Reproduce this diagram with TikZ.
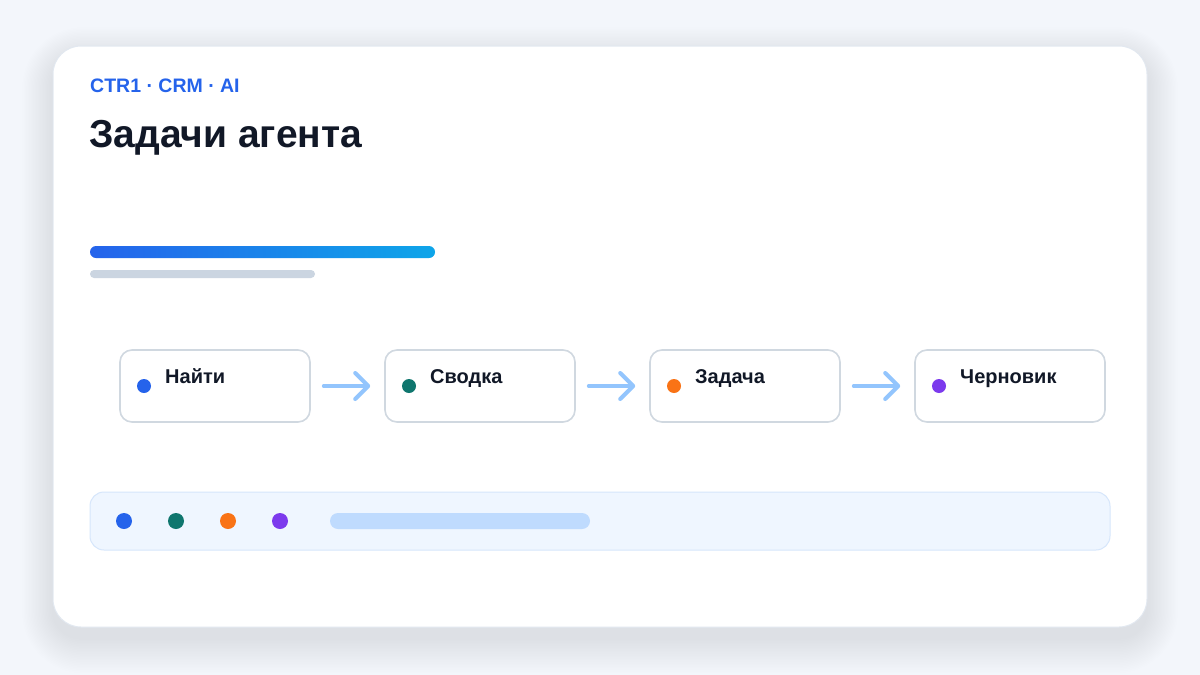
\documentclass[tikz,border=0pt]{standalone}
\usepackage{fontspec}
\setmainfont{Liberation Sans}
\usetikzlibrary{arrows.meta}
\definecolor{bg}{HTML}{F3F6FB}
\definecolor{cardline}{HTML}{E2E8F0}
\definecolor{shadowc}{HTML}{64748B}
\definecolor{boxline}{HTML}{D0D8E0}
\definecolor{ink}{HTML}{111827}
\definecolor{accent}{HTML}{2563EB}
\definecolor{gradR}{HTML}{0EA5E9}
\definecolor{grayline}{HTML}{CBD5E1}
\definecolor{arrowc}{HTML}{93C5FD}
\definecolor{barfill}{HTML}{EFF6FF}
\definecolor{barline}{HTML}{D6E6FB}
\definecolor{pill}{HTML}{BFDBFE}
\definecolor{cblue}{HTML}{2563EB}
\definecolor{cteal}{HTML}{0F766E}
\definecolor{corange}{HTML}{F97316}
\definecolor{cviolet}{HTML}{7C3AED}
\tikzset{
  stepbox/.style={draw=boxline, line width=1.6pt, fill=white, rounded corners=12pt,
    minimum width=190pt, minimum height=72pt, inner sep=0pt},
  lbl/.style={font=\fontsize{20}{24}\selectfont\bfseries, text=ink, inner sep=0pt},
  flow/.style={draw=arrowc, line width=4pt, line cap=round, line join=round,
    shorten <=13pt, shorten >=14pt, -{Straight Barb[length=13pt,width=26pt,round]}},
}
\begin{document}
\begin{tikzpicture}[x=1pt,y=-1pt]
\useasboundingbox (0,0) rectangle (1200,675);
\fill[bg] (0,0) rectangle (1200,675);
% soft shadow
\foreach \i in {1,...,22}{
  \fill[shadowc, opacity=0.0045, rounded corners={28pt+\i pt*1.5}]
    (53-\i*1.4, 58-\i*1.4) rectangle (1147+\i*1.4, 638+\i*1.6);
}
% card
\draw[cardline, line width=1pt, fill=white, rounded corners=28pt] (53,46) rectangle (1147,627);
% header
\node[anchor=base west, inner sep=0pt, text=accent, font=\fontsize{19.5}{22}\selectfont\bfseries] (kicker) at (90,92) {CTR1 · CRM · AI};
\node[anchor=base west, inner sep=0pt, text=ink, font=\fontsize{39}{44}\selectfont\bfseries] (title) at (89,147) {Задачи агента};
% progress bars
\shade[left color=accent, right color=gradR, rounded corners=6pt] (90,246) rectangle (435,258);
\fill[grayline, rounded corners=4pt] (90,270) rectangle (315,278);
% steps
\node[stepbox] (n1) at (215,386) {};
\node[stepbox] (n2) at (480,386) {};
\node[stepbox] (n3) at (745,386) {};
\node[stepbox] (n4) at (1010,386) {};
\fill[cblue] (144,386) circle (7pt);
\fill[cteal] (409,386) circle (7pt);
\fill[corange] (674,386) circle (7pt);
\fill[cviolet] (939,386) circle (7pt);
\node[lbl, anchor=base west] (t1) at (165,383) {Найти};
\node[lbl, anchor=base west] (t2) at (430,383) {Сводка};
\node[lbl, anchor=base west] (t3) at (695,383) {Задача};
\node[lbl, anchor=base west] (t4) at (960,383) {Черновик};
\draw[flow] (n1) -- (n2);
\draw[flow] (n2) -- (n3);
\draw[flow] (n3) -- (n4);
% bottom bar
\draw[barline, line width=1pt, fill=barfill, rounded corners=14pt] (90,492) rectangle (1110,550);
\fill[cblue] (124,521) circle (8pt);
\fill[cteal] (176,521) circle (8pt);
\fill[corange] (228,521) circle (8pt);
\fill[cviolet] (280,521) circle (8pt);
\fill[pill, rounded corners=8pt] (330,513) rectangle (590,529);
\end{tikzpicture}
\end{document}
